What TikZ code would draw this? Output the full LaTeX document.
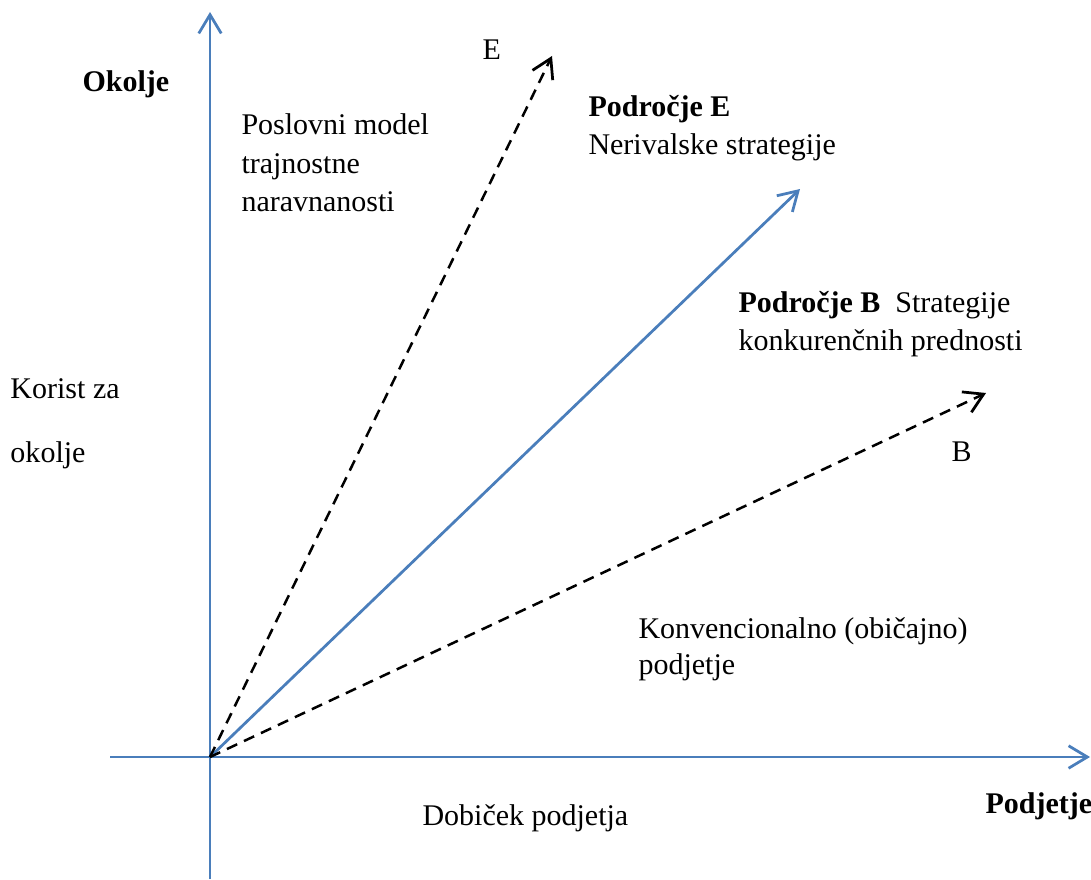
\documentclass[tikz,border=0pt]{standalone}
\usepackage{fontspec}
\setmainfont{Liberation Serif}
\usetikzlibrary{arrows.meta}
\definecolor{wordblue}{RGB}{74,126,187}

\begin{document}
\begin{tikzpicture}[x=0.4pt,y=-0.4pt,
  axis/.style={wordblue,line width=1.1pt,-{Straight Barb[length=7.5pt,width=9pt]}},
  dashvec/.style={black,line width=1pt,dash pattern=on 4.5pt off 3pt,-{Straight Barb[length=7.5pt,width=9pt,line width=1.1pt]}},
  lbl/.style={anchor=base west,inner sep=0pt,font=\fontsize{12}{14}\selectfont},
  blbl/.style={lbl,font=\fontsize{12}{14}\selectfont\bfseries}]
\useasboundingbox (0,0) rectangle (1091,879);

\coordinate (O) at (210,757);
\coordinate (ybot) at (210,879);
\coordinate (ytop) at (210,12);
\coordinate (xleft) at (110,757);
\coordinate (xright) at (1090,757);

\coordinate (Etip) at (552,56);
\coordinate (Mtip) at (800,189);
\coordinate (Btip) at (986,393);

\draw[axis] (ybot) -- (ytop); %y
\draw[axis] (xleft) -- (xright); %x

\draw[axis] (O) -- (Mtip);
\draw[dashvec] (O) -- (Etip);
\draw[dashvec] (O) -- (Btip);

\node[blbl] (okolje) at (82,92) {Okolje};
\node[blbl] (podjetje) at (985,813) {Podjetje};

\node[lbl] (korist) at (10,398) {Korist za};
\node[lbl] (korist2) at (10,462) {okolje};
\node[lbl] (dobicek) at (422,825) {Dobiček podjetja};

\node[lbl] (Elbl) at (482,60) {E};
\node[lbl] (Blbl) at (951,461) {B};

\node[lbl] (model1) at (241,135) {Poslovni model};
\node[lbl] (model2) at (241,173) {trajnostne};
\node[lbl] (model3) at (241,211) {naravnanosti};

\node[blbl] (podE) at (588,117) {Področje E};
\node[lbl] (podE2) at (588,155) {Nerivalske strategije};

\node[lbl] (podB) at (738,312) {\textbf{Področje B}\ \ Strategije};
\node[lbl] (podB2) at (738,350) {konkurenčnih prednosti};

\node[lbl] (konv) at (638,638) {Konvencionalno (običajno)};
\node[lbl] (konv2) at (638,674) {podjetje};

\end{tikzpicture}
\end{document}
